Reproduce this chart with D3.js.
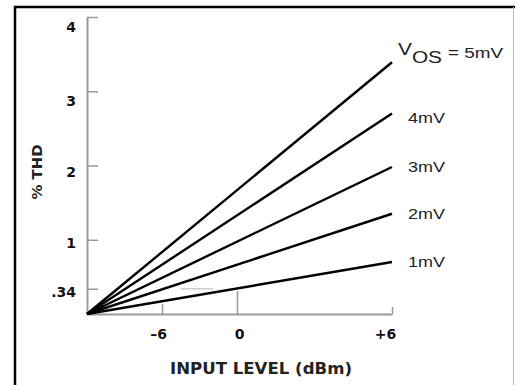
<!DOCTYPE html>
<html>
<head>
<meta charset="utf-8">
<script src="https://cdn.jsdelivr.net/npm/d3@7"></script>
<style>
  body { margin: 0; background: #fff; }
  svg { display: block; }
</style>
</head>
<body>
<svg id="chart" width="515" height="385"></svg>
<script>
// data
const inputLevels = [-12, 6];           // dBm, lines start at origin and end at +6
const vosLabels = ["5mV", "4mV", "3mV", "2mV", "1mV"];
const thdAtEnd = [3.39, 2.70, 1.98, 1.35, 0.70];   // % THD at +6 dBm
const xTickValues = [-6, 0, 6];
const xTickLabels = ["\u20136", "0", "+6"];
const yTickValues = [4, 3, 2, 1, 0.34];
const yTickLabels = ["4", "3", "2", "1", ".34"];

const svg = d3.select("#chart");

// the x axis of the original is not evenly spaced, so use a piecewise scale
const x = d3.scaleLinear().domain([-12, 0, 6]).range([87, 237, 392]);
const y = d3.scaleLinear().domain([0, 4]).range([314, 17]);

// frame
svg.append("line").attr("x1", 15).attr("y1", 6).attr("x2", 15).attr("y2", 385)
    .attr("stroke", "#000").attr("stroke-width", 2.5);
svg.append("line").attr("x1", 14).attr("y1", 7).attr("x2", 515).attr("y2", 7)
    .attr("stroke", "#000").attr("stroke-width", 2.5);
svg.append("line").attr("x1", 513.5).attr("y1", 7).attr("x2", 513.5).attr("y2", 385)
    .attr("stroke", "#bbb").attr("stroke-width", 1);

const axisColor = "#999";
const boldFont = "'DejaVu Sans', sans-serif";

// y axis
const yAxis = svg.append("g")
    .attr("transform", `translate(${x(-12)},0)`)
    .call(d3.axisLeft(y).tickValues(yTickValues)
        .tickFormat((d, i) => yTickLabels[i])
        .tickSizeInner(-11).tickSizeOuter(0).tickPadding(11));
yAxis.select(".domain").attr("stroke", axisColor).attr("stroke-width", 2);
yAxis.selectAll(".tick line").attr("stroke", axisColor).attr("stroke-width", 1.5);
const yNudge = [10, 10, 7, 3, 3];
yAxis.selectAll(".tick text")
    .attr("y", (d, i) => yNudge[i])
    .attr("font-family", boldFont).attr("font-weight", "bold")
    .attr("font-size", 14).attr("fill", "#111");

// faint reference dash at .34
svg.append("line")
    .attr("x1", x(-4.5)).attr("x2", x(-1.9))
    .attr("y1", y(0.34)).attr("y2", y(0.34))
    .attr("stroke", "#ccc").attr("stroke-width", 1.5);

// x axis
const xTickLen = [10, 23, 7];
const xAxis = svg.append("g")
    .attr("transform", `translate(0,${y(0)})`)
    .call(d3.axisBottom(x).tickValues(xTickValues)
        .tickFormat((d, i) => xTickLabels[i])
        .tickSizeInner(0).tickSizeOuter(0).tickPadding(15));
xAxis.select(".domain").attr("stroke", axisColor).attr("stroke-width", 2);
xAxis.selectAll(".tick line")
    .attr("y2", (d, i) => -xTickLen[i])
    .attr("stroke", axisColor).attr("stroke-width", 1.5);
const xNudge = [-4, 2, -7];
xAxis.selectAll(".tick text")
    .attr("x", (d, i) => xNudge[i])
    .attr("font-family", boldFont).attr("font-weight", "bold")
    .attr("font-size", 14).attr("fill", "#111");

// axis titles
svg.append("text")
    .attr("x", 261).attr("y", 374)
    .attr("text-anchor", "middle")
    .attr("font-family", boldFont).attr("font-weight", "bold")
    .attr("font-size", 15).attr("fill", "#222")
    .attr("textLength", 182).attr("lengthAdjust", "spacingAndGlyphs")
    .text("INPUT LEVEL (dBm)");
svg.append("text")
    .attr("transform", "translate(42,172) rotate(-90)")
    .attr("text-anchor", "middle")
    .attr("font-family", boldFont).attr("font-weight", "bold")
    .attr("font-size", 14).attr("fill", "#222")
    .attr("textLength", 55).attr("lengthAdjust", "spacingAndGlyphs")
    .text("% THD");

// curves
const line = d3.line().x(d => x(d[0])).y(d => y(d[1]));
thdAtEnd.forEach(v => {
    const pts = [[inputLevels[0], 0], [inputLevels[1], v]];
    svg.append("path")
        .attr("d", line(pts))
        .attr("fill", "none")
        .attr("stroke", "#000")
        .attr("stroke-width", 2.4);
});

// curve labels
const labelFont = "'Liberation Sans', Arial, sans-serif";
const labelNudge = [0, 9, 5, 5, 5];
thdAtEnd.forEach((v, i) => {
    if (i === 0) {
        const t = svg.append("text")
            .attr("x", x(6) + 6).attr("y", y(v) - 7)
            .attr("font-family", labelFont).attr("fill", "#222")
            .attr("font-size", 16)
            .attr("textLength", 44).attr("lengthAdjust", "spacingAndGlyphs");
        t.append("tspan").text("V");
        t.append("tspan").attr("dy", 8).text("OS");
        svg.append("text")
            .attr("x", x(6) + 56).attr("y", y(v) - 4)
            .attr("font-family", labelFont).attr("fill", "#222")
            .attr("font-size", 14)
            .attr("textLength", 55).attr("lengthAdjust", "spacingAndGlyphs")
            .text("= " + vosLabels[i]);
    } else {
        svg.append("text")
            .attr("x", x(6) + 16)
            .attr("y", y(v) + labelNudge[i])
            .attr("font-family", labelFont)
            .attr("font-size", 15).attr("fill", "#222")
            .attr("textLength", 37).attr("lengthAdjust", "spacingAndGlyphs")
            .text(vosLabels[i]);
    }
});
</script>
</body>
</html>
